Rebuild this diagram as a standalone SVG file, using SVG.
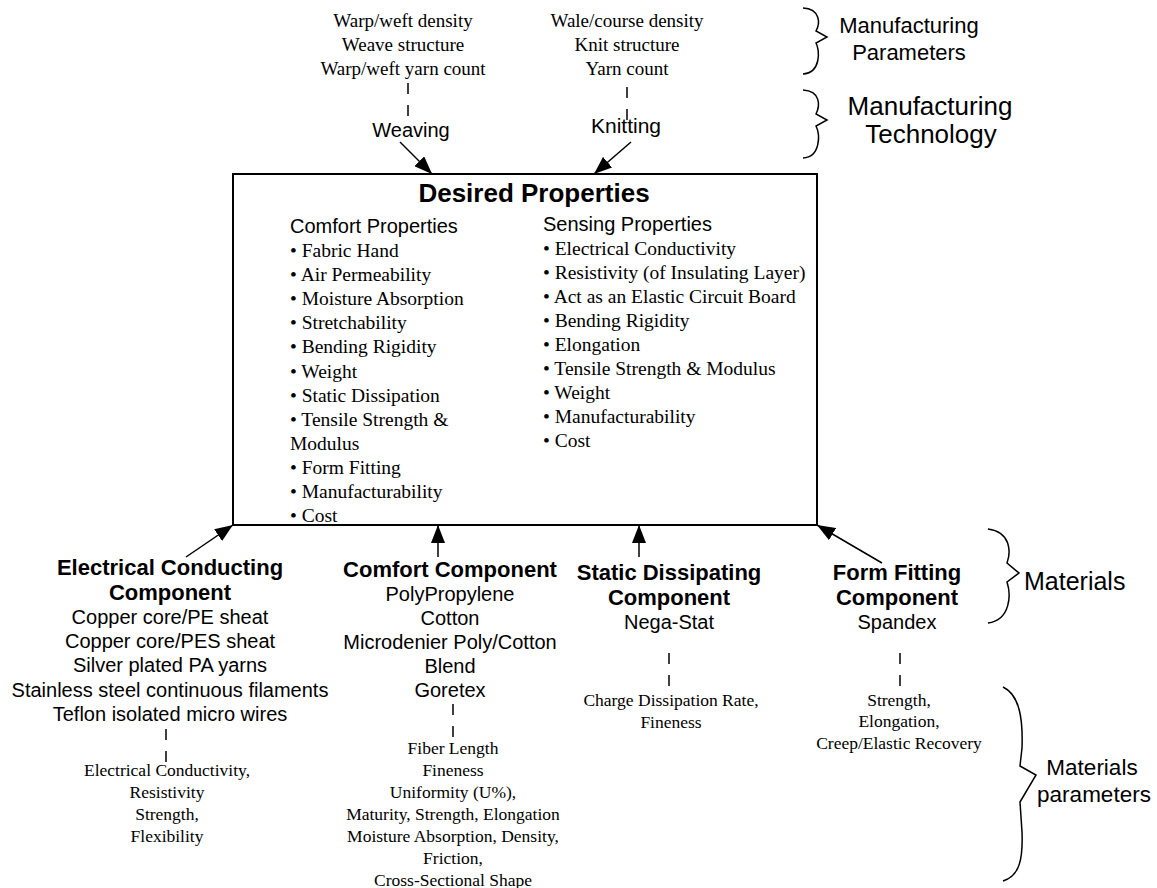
<svg xmlns="http://www.w3.org/2000/svg" width="1157" height="888" viewBox="0 0 1157 888">
<style>
.sans{font-family:"Liberation Sans",Arial,sans-serif;fill:#000}
.serif{font-family:"Liberation Serif","Times New Roman",serif;fill:#000}
.b{font-weight:bold}
.c{text-anchor:middle}
.ln{stroke:#000;stroke-width:1.5;fill:none}
.dash{stroke:#000;stroke-width:1.5;stroke-dasharray:11 11;fill:none}
.brace{stroke:#000;stroke-width:1.5;fill:none}
</style>
<defs>
<marker id="ah" markerUnits="userSpaceOnUse" markerWidth="18" markerHeight="14" refX="18" refY="7" orient="auto">
<path d="M0,0 L18,7 L0,14 z" fill="#000"/>
</marker>
</defs>
<rect width="1157" height="888" fill="#fff"/>

<g id="connectors">
<line class="ln" x1="400" y1="142" x2="432" y2="174" marker-end="url(#ah)"/>
<line class="ln" x1="631" y1="142" x2="594" y2="174" marker-end="url(#ah)"/>
<line class="ln" x1="186" y1="557" x2="233" y2="525" marker-end="url(#ah)"/>
<line class="ln" x1="438" y1="557" x2="438" y2="525" marker-end="url(#ah)"/>
<line class="ln" x1="639" y1="557" x2="639" y2="525" marker-end="url(#ah)"/>
<line class="ln" x1="882" y1="563" x2="817" y2="525" marker-end="url(#ah)"/>
<line class="dash" x1="408" y1="83" x2="408" y2="117"/>
<line class="dash" x1="627" y1="87" x2="627" y2="121"/>
<line class="dash" x1="166" y1="729" x2="166" y2="763"/>
<line class="dash" x1="453" y1="704" x2="453" y2="738"/>
<line class="dash" x1="669" y1="653" x2="669" y2="687"/>
<line class="dash" x1="900" y1="653" x2="900" y2="687"/>
</g>

<g id="manufacturing-parameters-weaving">
<text class="serif c" font-size="19" x="403" y="27">Warp/weft density</text>
<text class="serif c" font-size="19" x="403" y="51">Weave structure</text>
<text class="serif c" font-size="19" x="403" y="75">Warp/weft yarn count</text>
</g>
<g id="manufacturing-parameters-knitting">
<text class="serif c" font-size="19" x="627" y="27">Wale/course density</text>
<text class="serif c" font-size="19" x="627" y="51">Knit structure</text>
<text class="serif c" font-size="19" x="627" y="75">Yarn count</text>
</g>
<g id="weaving"><text class="sans c" font-size="20" x="411" y="137">Weaving</text></g>
<g id="knitting"><text class="sans c" font-size="21" x="626" y="133">Knitting</text></g>

<g id="label-manufacturing-parameters">
<path class="brace" d="M 803 8 C 821 9, 820 24, 816 31 L 827 37 L 816 43 C 820 50, 821 73, 803 74"/>
<text class="sans c" font-size="22" x="909" y="33">Manufacturing</text>
<text class="sans c" font-size="22" x="909" y="60">Parameters</text>
</g>
<g id="label-manufacturing-technology">
<path class="brace" d="M 803 90 C 821 91, 820 106, 816 114 L 827 120 L 816 126 C 820 134, 821 157, 803 158"/>
<text class="sans c" font-size="26" x="930" y="115">Manufacturing</text>
<text class="sans c" font-size="26" x="931" y="143">Technology</text>
</g>

<g id="desired-properties">
<rect x="233" y="174" width="584" height="351" fill="none" stroke="#000" stroke-width="2"/>
<text class="sans b c" font-size="26" x="534" y="202">Desired Properties</text>
<text class="sans" font-size="20" x="290" y="233">Comfort Properties</text>
<g class="serif" font-size="19.5">
<text x="290" y="257">• Fabric Hand</text>
<text x="290" y="281">• Air Permeability</text>
<text x="290" y="305">• Moisture Absorption</text>
<text x="290" y="329">• Stretchability</text>
<text x="290" y="353">• Bending Rigidity</text>
<text x="290" y="378">• Weight</text>
<text x="290" y="402">• Static Dissipation</text>
<text x="290" y="426">• Tensile Strength &amp;</text>
<text x="290" y="450">Modulus</text>
<text x="290" y="474">• Form Fitting</text>
<text x="290" y="498">• Manufacturability</text>
<text x="290" y="522">• Cost</text>
</g>
<text class="sans" font-size="20" x="543" y="231">Sensing Properties</text>
<g class="serif" font-size="19.5">
<text x="543" y="255">• Electrical Conductivity</text>
<text x="543" y="279">• Resistivity (of Insulating Layer)</text>
<text x="543" y="303">• Act as an Elastic Circuit Board</text>
<text x="543" y="327">• Bending Rigidity</text>
<text x="543" y="351">• Elongation</text>
<text x="543" y="375">• Tensile Strength &amp; Modulus</text>
<text x="543" y="399">• Weight</text>
<text x="543" y="423">• Manufacturability</text>
<text x="543" y="447">• Cost</text>
</g>
</g>

<g id="electrical-conducting-component">
<text class="sans b c" font-size="22" x="170" y="575">Electrical Conducting</text>
<text class="sans b c" font-size="22" x="170" y="600">Component</text>
<g class="sans c" font-size="20">
<text x="170" y="624">Copper core/PE sheat</text>
<text x="170" y="648">Copper core/PES sheat</text>
<text x="170" y="672">Silver plated PA yarns</text>
<text x="170" y="697">Stainless steel continuous filaments</text>
<text x="170" y="721">Teflon isolated micro wires</text>
</g>
<g class="serif c" font-size="17.5">
<text x="167" y="776">Electrical Conductivity,</text>
<text x="167" y="798">Resistivity</text>
<text x="167" y="820">Strength,</text>
<text x="167" y="842">Flexibility</text>
</g>
</g>

<g id="comfort-component">
<text class="sans b c" font-size="22" x="450" y="577">Comfort Component</text>
<g class="sans c" font-size="20">
<text x="450" y="601">PolyPropylene</text>
<text x="450" y="625">Cotton</text>
<text x="450" y="649">Microdenier Poly/Cotton</text>
<text x="450" y="673">Blend</text>
<text x="450" y="697">Goretex</text>
</g>
<g class="serif c" font-size="17.5">
<text x="453" y="754">Fiber Length</text>
<text x="453" y="776">Fineness</text>
<text x="453" y="798">Uniformity (U%),</text>
<text x="453" y="820">Maturity, Strength, Elongation</text>
<text x="453" y="842">Moisture Absorption, Density,</text>
<text x="453" y="864">Friction,</text>
<text x="453" y="886">Cross-Sectional Shape</text>
</g>
</g>

<g id="static-dissipating-component">
<text class="sans b c" font-size="22" x="669" y="580">Static Dissipating</text>
<text class="sans b c" font-size="22" x="669" y="605">Component</text>
<text class="sans c" font-size="20" x="669" y="629">Nega-Stat</text>
<g class="serif c" font-size="17.5">
<text x="671" y="706">Charge Dissipation Rate,</text>
<text x="671" y="728">Fineness</text>
</g>
</g>

<g id="form-fitting-component">
<text class="sans b c" font-size="22" x="897" y="580">Form Fitting</text>
<text class="sans b c" font-size="22" x="897" y="605">Component</text>
<text class="sans c" font-size="20" x="897" y="629">Spandex</text>
<g class="serif c" font-size="17.5">
<text x="899" y="706">Strength,</text>
<text x="899" y="727">Elongation,</text>
<text x="899" y="749">Creep/Elastic Recovery</text>
</g>
</g>

<g id="label-materials">
<path class="brace" d="M 988 529 C 1011 532, 1011 552, 1007 563 L 1019 573 L 1007 582 C 1011 594, 1011 620, 988 623"/>
<text class="sans" font-size="25" x="1024" y="590">Materials</text>
</g>
<g id="label-materials-parameters">
<path class="brace" d="M 1003 687 C 1020 695, 1023 720, 1022 748 L 1020 766 L 1036 775 L 1020 802 L 1022 832 C 1023 858, 1020 876, 1003 881"/>
<text class="sans c" font-size="22.5" x="1092" y="775">Materials</text>
<text class="sans c" font-size="22.5" x="1094" y="802">parameters</text>
</g>
</svg>
